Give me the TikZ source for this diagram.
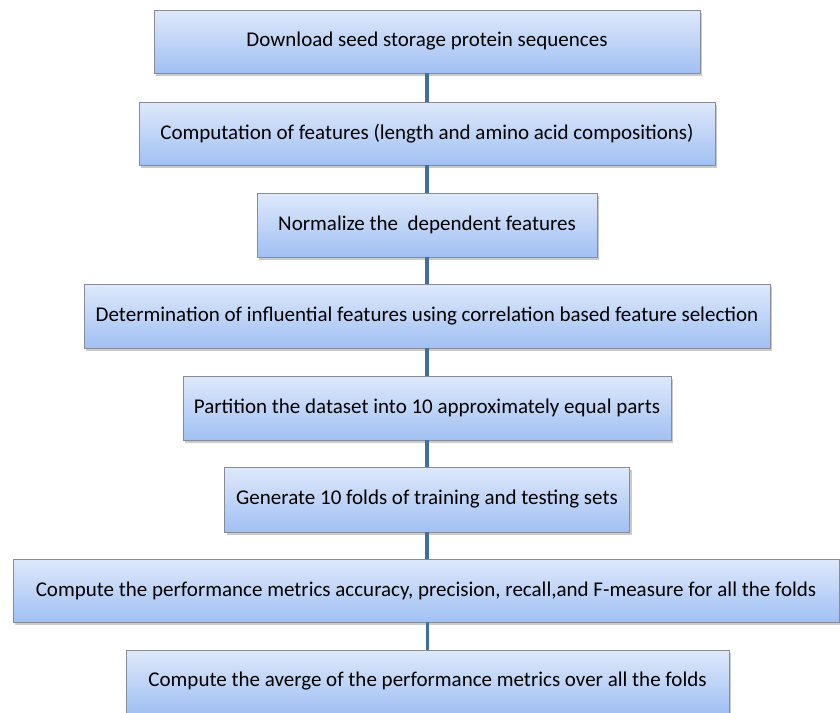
\documentclass[tikz,border=0pt]{standalone}
\usepackage{fontspec}
\setmainfont{Carlito}
\usetikzlibrary{shadows}
\definecolor{boxtop}{RGB}{222,233,251}
\definecolor{boxbot}{RGB}{161,192,243}
\definecolor{boxline}{RGB}{135,140,150}
\definecolor{linkblue}{RGB}{64,110,160}
\tikzset{
  stepbox/.style={rectangle, draw=boxline, line width=0.8pt,
    top color=boxtop, bottom color=boxbot, inner sep=0pt,
    font=\fontsize{21}{25}\selectfont, text=black,
    drop shadow={shadow xshift=2pt, shadow yshift=-2.5pt, opacity=0.35, fill=black!60}},
  link/.style={draw=linkblue, line width=3.5pt}
}
\begin{document}
\begin{tikzpicture}[x=1pt,y=-1pt]
\useasboundingbox (0,0) rectangle (840,712);
\node[stepbox, minimum width=546pt, minimum height=63pt] (b1) at (427,41.5) {Download seed storage protein sequences};
\node[stepbox, minimum width=576pt, minimum height=63pt] (b2) at (427,133.5) {Computation of features (length and amino acid compositions)};
\node[stepbox, minimum width=340pt, minimum height=64pt] (b3) at (427,225) {Normalize the\ \ dependent features};
\node[stepbox, minimum width=686pt, minimum height=64pt] (b4) at (427,316) {Determination of influential features using correlation based feature selection};
\node[stepbox, minimum width=488pt, minimum height=64pt] (b5) at (427,408) {Partition the dataset into 10 approximately equal parts};
\node[stepbox, minimum width=405pt, minimum height=65pt] (b6) at (427,499.5) {Generate 10 folds of training and testing sets};
\node[stepbox, minimum width=826pt, minimum height=63pt] (b7) at (426,590.5) {Compute the performance metrics accuracy, precision, recall,and F-measure for all the folds};
\node[stepbox, minimum width=603pt, minimum height=63pt] (b8) at (427.5,681.5) {Compute the averge of the performance metrics over all the folds};
\draw[link] (b1.south) -- (b2.north);
\draw[link] (b2.south) -- (b3.north);
\draw[link] (b3.south) -- (b4.north);
\draw[link] (b4.south) -- (b5.north);
\draw[link] (b5.south) -- (b6.north);
\draw[link] (b6.south) -- (b7.north -| b6.south);
\draw[link] (b7.south -| b8.north) -- (b8.north);
\end{tikzpicture}
\end{document}
